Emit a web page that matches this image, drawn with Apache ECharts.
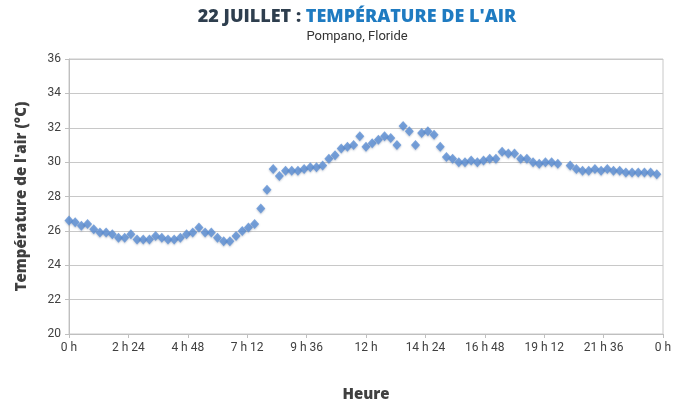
<!DOCTYPE html>
<html>
<head>
<meta charset="utf-8">
<script src="https://cdn.jsdelivr.net/npm/echarts@6/dist/echarts.min.js"></script>
<style>
    html, body { margin: 0; padding: 0; background: #fff; }
    #chart { width: 685px; height: 402px; }
</style>
</head>
<body>
<div id="chart"></div>
<script>
    // une mesure toutes les 15 minutes, null = mesure manquante
    const stepMinutes = 15;
    const temperatures = [
        26.6, 26.5, 26.3, 26.4, 26.1, 25.9, 25.9, 25.8, 25.6, 25.6,
        25.8, 25.5, 25.5, 25.5, 25.7, 25.6, 25.5, 25.5, 25.6, 25.8,
        25.9, 26.2, 25.9, 25.9, 25.6, 25.4, 25.4, 25.7, 26.0, 26.2,
        26.4, 27.3, 28.4, 29.6, 29.2, 29.5, 29.5, 29.5, 29.6, 29.7,
        29.7, 29.8, 30.2, 30.4, 30.8, 30.9, 31.0, 31.5, 30.9, 31.1,
        31.3, 31.5, 31.4, 31.0, 32.1, 31.8, 31.0, 31.7, 31.8, 31.6,
        30.9, 30.3, 30.2, 30.0, 30.0, 30.1, 30.0, 30.1, 30.2, 30.2,
        30.6, 30.5, 30.5, 30.2, 30.2, 30.0, 29.9, 30.0, 30.0, 29.9,
        null,
        29.8, 29.6, 29.5, 29.5, 29.6, 29.5, 29.6, 29.5, 29.5, 29.4,
        29.4, 29.4, 29.4, 29.4, 29.3
    ];
    const yTicks = [20, 22, 24, 26, 28, 30, 32, 34, 36];
    const xTickHours = [0, 2.4, 4.8, 7.2, 9.6, 12, 14.4, 16.8, 19.2, 21.6, 24];

    const points = temperatures.map((t, i) => [i * stepMinutes / 60, t]);

    // 2.4 -> "2 h 24", 24 -> "0 h"
    function hourLabel(v) {
        let h = Math.floor(v + 1e-6);
        let m = Math.round((v - h) * 60);
        if (h >= 24) h -= 24;
        return m === 0 ? h + ' h' : h + ' h ' + m;
    }

    const labelFont = '"Liberation Sans Narrow", "Roboto", sans-serif';
    const titleFont = '"Open Sans", sans-serif';

    const option = {
        animation: false,
        title: {
            text: '{a|22 JUILLET : }{b|TEMPÉRATURE DE L\'AIR}',
            subtext: 'Pompano, Floride',
            left: 352,
            textAlign: 'center',
            top: 3,
            itemGap: 4,
            textStyle: {
                rich: {
                    a: { fontFamily: titleFont, fontWeight: 800, fontSize: 18, color: '#2e3e4e' },
                    b: { fontFamily: titleFont, fontWeight: 800, fontSize: 18, color: '#1f7bc1' }
                }
            },
            subtextStyle: { fontFamily: 'Roboto', fontSize: 13, color: '#333' }
        },
        grid: {
            left: 69,
            right: 22,
            top: 59,
            bottom: 68,
            outerBoundsMode: 'none',
            show: true,
            borderColor: '#c8c8c8',
            borderWidth: 1
        },
        xAxis: {
            type: 'value',
            min: 0,
            max: 24,
            interval: 2.4,
            name: 'Heure',
            nameLocation: 'middle',
            nameGap: 53,
            nameTextStyle: { fontFamily: titleFont, fontWeight: 800, fontSize: 15, color: '#404040' },
            axisLine: { lineStyle: { color: '#bfbfbf' } },
            axisTick: { show: true, length: 4, lineStyle: { color: '#bfbfbf' } },
            splitLine: { show: false },
            axisLabel: {
                formatter: hourLabel,
                customValues: xTickHours,
                fontFamily: labelFont,
                fontSize: 12,
                color: '#404040',
                margin: 8
            }
        },
        yAxis: {
            type: 'value',
            min: 20,
            max: 36,
            interval: 2,
            name: 'Température de l\'air (°C)',
            nameLocation: 'middle',
            nameGap: 40,
            nameTextStyle: { fontFamily: titleFont, fontWeight: 800, fontSize: 15, color: '#404040' },
            axisLine: { show: true, lineStyle: { color: '#bfbfbf' } },
            axisTick: { show: true, length: 4, lineStyle: { color: '#bfbfbf' } },
            splitLine: { lineStyle: { color: '#c8c8c8' } },
            axisLabel: {
                formatter: v => yTicks.includes(v) ? String(v) : '',
                fontFamily: labelFont,
                fontSize: 12,
                color: '#404040',
                margin: 8
            }
        },
        series: [{
            type: 'scatter',
            data: points,
            symbol: 'diamond',
            symbolSize: [9, 10],
            itemStyle: {
                color: '#5b8ed4',
                shadowBlur: 2,
                shadowColor: 'rgba(40, 60, 100, 0.35)',
                shadowOffsetY: 1
            }
        }]
    };

    echarts.init(document.getElementById('chart')).setOption(option);
</script>
</body>
</html>
